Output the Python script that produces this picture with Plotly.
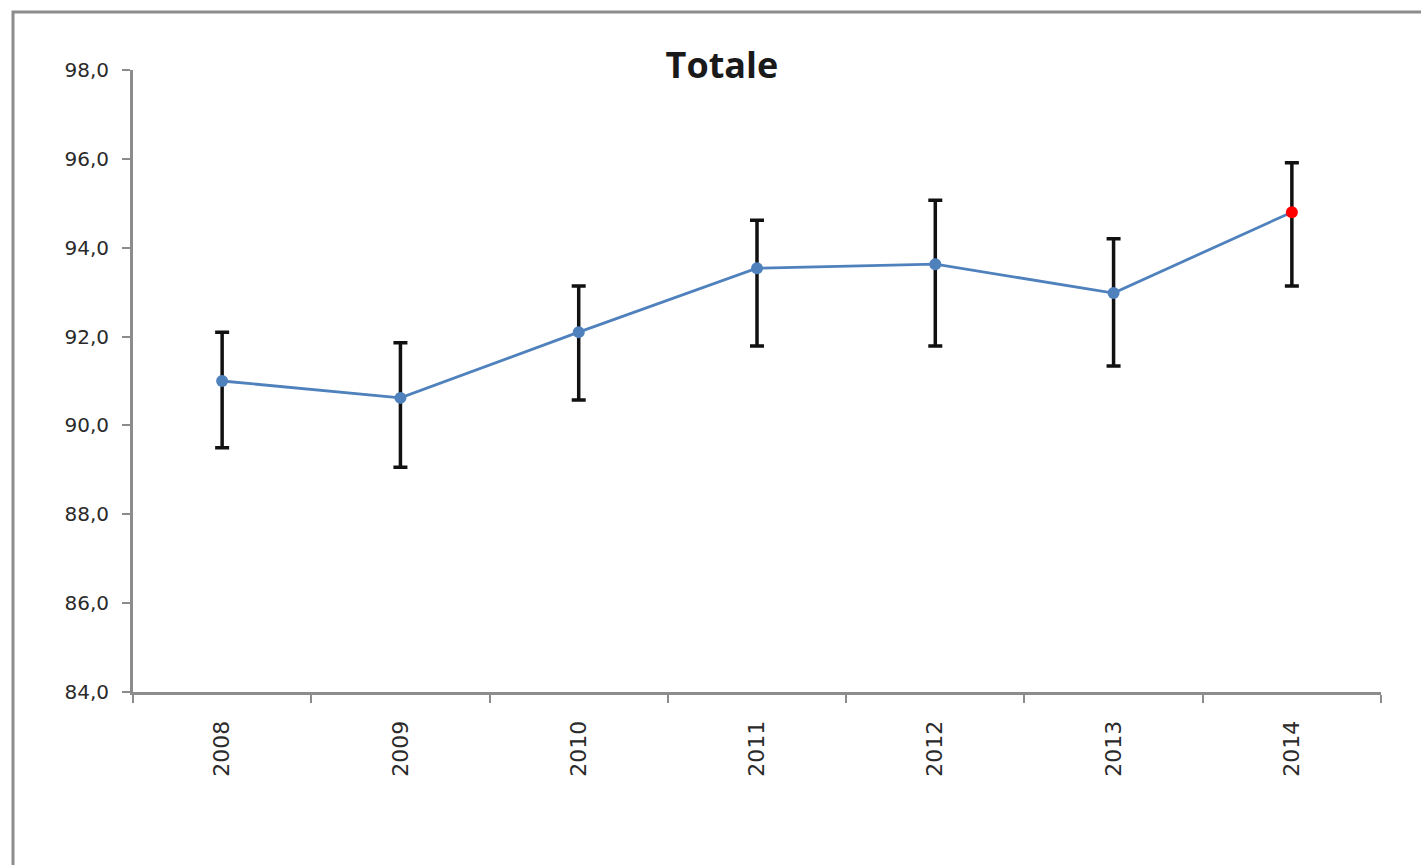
import plotly.graph_objects as go

# Annual index with confidence interval bounds
years = ["2008", "2009", "2010", "2011", "2012", "2013", "2014"]
values = [91.0, 90.62, 92.1, 93.54, 93.63, 92.98, 94.8]
upper = [92.1, 91.86, 93.14, 94.62, 95.07, 94.2, 95.91]
lower = [89.5, 89.06, 90.57, 91.79, 91.79, 91.34, 93.14]
y_ticks = [84, 86, 88, 90, 92, 94, 96, 98]

err_plus = [u - v for u, v in zip(upper, values)]
err_minus = [v - l for v, l in zip(values, lower)]
marker_colors = ["#4F81BD"] * (len(years) - 1) + ["#FF0000"]

fig = go.Figure()
fig.add_trace(go.Scatter(
    x=years, y=values, mode="lines+markers",
    line=dict(color="#4F81BD", width=2.8),
    marker=dict(color=marker_colors, size=12),
    error_y=dict(type="data", symmetric=False, array=err_plus, arrayminus=err_minus,
                 color="#111111", thickness=3.5, width=7),
    showlegend=False,
))

grey = "#8C8C8C"
fig.update_layout(
    width=1421, height=865,
    margin=dict(l=133, r=40, t=70, b=173),
    paper_bgcolor="white", plot_bgcolor="white",
    separators=",.",
    title=dict(text="<b>Totale</b>", x=722 / 1421, xanchor="center",
               y=1 - 65 / 865, yanchor="middle",
               font=dict(family="Open Sans", size=36, color="#1a1a1a")),
    xaxis=dict(
        type="category", range=[-0.5, 6.5], tickson="boundaries",
        ticks="outside", ticklen=8, tickwidth=2, tickcolor=grey,
        showline=True, linecolor=grey, linewidth=3, showgrid=False,
        tickangle=-90, ticklabelstandoff=17,
        tickfont=dict(family="DejaVu Sans", size=22, color="#2a2a2a"),
        zeroline=False,
    ),
    yaxis=dict(
        range=[84, 98], tickvals=y_ticks, tickformat=".1f",
        ticks="outside", ticklen=8, tickwidth=2, tickcolor=grey,
        showline=True, linecolor=grey, linewidth=3, showgrid=False,
        tickfont=dict(family="DejaVu Sans", size=20, color="#2a2a2a"),
        ticklabelstandoff=9,
        zeroline=False,
    ),
    shapes=[dict(type="rect", xref="paper", yref="paper",
                 x0=(13 - 133) / 1248, x1=(1428 - 133) / 1248,
                 y0=(692 - 872) / 622, y1=1 + (70 - 12) / 622,
                 line=dict(color="#8C8C8C", width=3))],
)

fig.write_html("out.html")
